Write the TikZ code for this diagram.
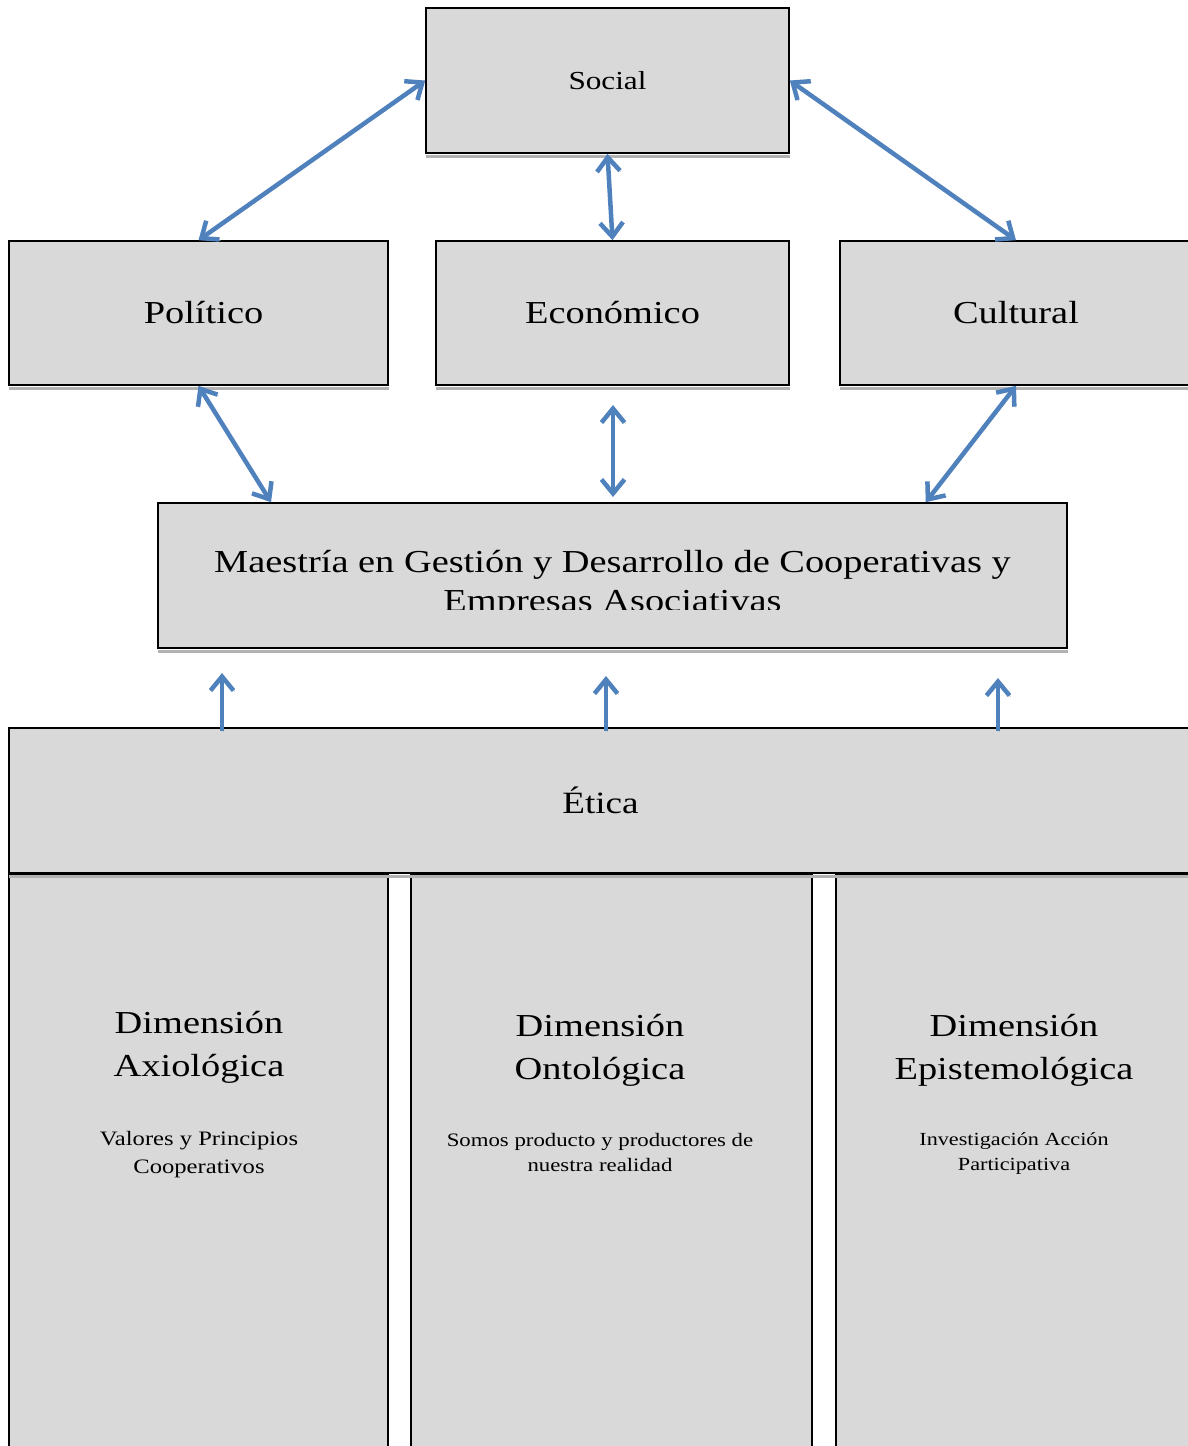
\documentclass[tikz,border=0pt]{standalone}
\usepackage{fontspec}
\setmainfont{Liberation Serif}[FakeStretch=1.2]
\usetikzlibrary{arrows.meta, positioning, calc}
\definecolor{boxgray}{HTML}{D9D9D9}
\definecolor{linkblue}{HTML}{4F81BD}

\tikzset{
  box/.style={draw=black, line width=1.6pt, fill=boxgray, inner sep=0pt},
  bigtext/.style={font=\fontsize{32}{43}\selectfont},
  smalltext/.style={font=\fontsize{19}{25}\selectfont, align=center},
  link/.style={linkblue, line width=4.5pt,
    preaction={draw=black!25, transform canvas={shift={(1.2pt,-1.2pt)}}}},
  both/.style={link, {Straight Barb[length=14pt,width=23pt]}-{Straight Barb[length=14pt,width=23pt]}},
  up/.style={link, -{Straight Barb[length=14pt,width=23pt]}},
}

\begin{document}
\begin{tikzpicture}[x=1pt, y=-1pt]
  \useasboundingbox (0,0) rectangle (1188,1446);

  % upper level
  \node[box, minimum width=363pt, minimum height=145pt, font=\fontsize{26}{32}\selectfont] (social) at (607.5,80.5) {Social};
  \node[box, bigtext, minimum width=379pt, minimum height=144pt] (politico) at (198.5,313) {\hspace*{10pt}Político};
  \node[box, bigtext, minimum width=353pt, minimum height=144pt] (economico) at (612.5,313) {Económico};
  \node[box, bigtext, minimum width=352pt, minimum height=144pt] (cultural) at (1016,313) {Cultural};

  % program
  \node[box, minimum width=909pt, minimum height=145pt] (maestria) at (612.5,575.5) {};
  \begin{scope}
    \clip (maestria.north west) rectangle ($(maestria.east)+(0,34)$);
    \node[bigtext, align=center, font=\fontsize{32}{39}\selectfont] (maestriatxt) at (612.5,584) {Maestría en Gestión y Desarrollo de Cooperativas y\\Empresas Asociativas};
  \end{scope}

  % base
  \node[box, bigtext, minimum width=1183pt, minimum height=145pt, font=\fontsize{31}{40}\selectfont] (etica) at (600.5,800.5) {Ética};
  \node[box, minimum width=379pt, minimum height=590pt, anchor=north] (axio) at (198.5,873) {};
  \node[box, minimum width=401pt, minimum height=590pt, anchor=north] (onto) at (611.5,873) {};
  \node[box, minimum width=356pt, minimum height=590pt, anchor=north] (episte) at (1014,873) {};

  \node[bigtext, align=center] (axiot) at (199,1047) {Dimensión\\Axiológica};
  \node[smalltext, font=\fontsize{20.5}{28}\selectfont] (axios) at (199,1155) {Valores y Principios\\Cooperativos};
  \node[bigtext, align=center] (ontot) at (600,1050) {Dimensión\\Ontológica};
  \node[smalltext] (ontos) at (600,1152) {Somos producto y productores de\\nuestra realidad};
  \node[bigtext, align=center] (epistet) at (1014,1050) {Dimensión\\Epistemológica};
  \node[smalltext, font=\fontsize{18.5}{25}\selectfont] (epistes) at (1014,1154) {Investigación Acción\\Participativa};

  % shadows under the boxes
  \foreach \n in {social, politico, economico, cultural, maestria, etica}
    \draw[black!30, line width=2.5pt] ($(\n.south west)+(1,2.5)$) -- ($(\n.south east)+(0,2.5)$);

  % links
  \draw[both] (social.west) -- (politico.north);
  \draw[both] (social.east) -- (cultural.north);
  \draw[both] (social.south) -- (economico.north);
  \draw[both] (politico.south) -- ($(maestria.north west)!0.125!(maestria.north east)$);
  \draw[both] (cultural.south) -- ($(maestria.north west)!0.844!(maestria.north east)$);
  \coordinate (ectop) at (613,405);
  \coordinate (ecbot) at (613,497);
  \draw[both] (ectop) -- (ecbot);

  \coordinate (up1) at (222,673);
  \coordinate (up2) at (606,676);
  \coordinate (up3) at (998,678);
  \foreach \u in {up1, up2, up3}
    \draw[up] ($(\u |- etica.north)+(0,4)$) -- (\u);
\end{tikzpicture}
\end{document}
